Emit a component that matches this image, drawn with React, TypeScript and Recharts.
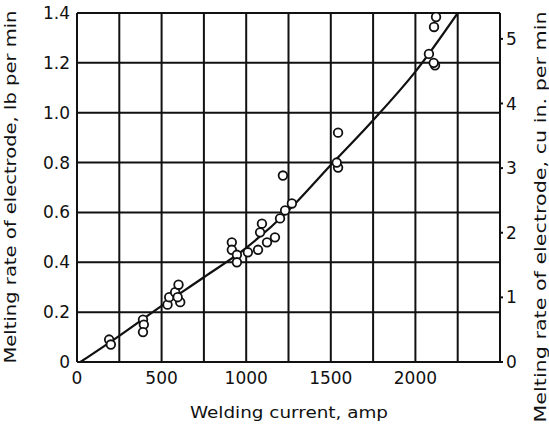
import { ComposedChart, Line, Scatter, XAxis, YAxis, CartesianGrid, Label } from 'recharts'

// fitted curve, welding current (amp) vs melting rate (lb per min)
const curveAmps = [20, 250, 500, 750, 1000, 1250, 1500, 1750, 2000, 2250]
const curveRates = [0, 0.105, 0.225, 0.34, 0.458, 0.608, 0.79, 0.97, 1.165, 1.4]

// measured points
const pointAmps = [
  190, 200,
  390, 395, 390,
  535, 545, 580, 600, 610, 595,
  915, 915, 945, 945, 1010, 1070, 1082, 1093, 1123, 1170, 1200, 1230, 1270, 1217,
  1543, 1543, 1535,
  2122, 2110, 2080, 2116, 2108,
]
const pointRates = [
  0.09, 0.07,
  0.17, 0.15, 0.12,
  0.23, 0.26, 0.28, 0.31, 0.24, 0.26,
  0.48, 0.45, 0.43, 0.4, 0.44, 0.45, 0.52, 0.555, 0.48, 0.5, 0.576, 0.608, 0.636, 0.748,
  0.92, 0.78, 0.8,
  1.384, 1.344, 1.236, 1.19, 1.2,
]

const xGridTicks = [0, 250, 500, 750, 1000, 1250, 1500, 1750, 2000, 2250, 2500]
const xLabelTicks = [0, 500, 1000, 1500, 2000]
const leftTicks = [0, 0.2, 0.4, 0.6, 0.8, 1.0, 1.2, 1.4]
const rightTicks = [0, 1, 2, 3, 4, 5]

const xTitle = 'Welding current, amp'
const leftTitle = 'Melting rate of electrode, lb per min'
const rightTitle = 'Melting rate of electrode, cu in. per min'

// lb of electrode per cu in (right scale)
const lbPerCuIn = 0.259

const curve = curveAmps.map((a, i) => ({ amp: a, rate: curveRates[i], cu: curveRates[i] / lbPerCuIn }))
const points = pointAmps.map((a, i) => ({ amp: a, rate: pointRates[i] }))

const ink = '#111'
const font = '"DejaVu Sans", sans-serif'

const OpenCircle = (props: any) => (
  <circle cx={props.cx} cy={props.cy} r={4.3} fill="#fff" stroke={ink} strokeWidth={1.8} />
)

export default function App() {
  return (
    <div style={{ position: 'absolute', left: 0, top: 0, background: '#fff' }}>
      <ComposedChart
        width={549}
        height={426}
        margin={{ top: 13, right: 0, bottom: 0, left: 0 }}
        style={{ fontFamily: font }}
      >
        <CartesianGrid stroke={ink} strokeWidth={2} />
        <XAxis
          dataKey="amp"
          type="number"
          domain={[0, 2500]}
          ticks={xGridTicks}
          tickFormatter={(v: number) => (xLabelTicks.includes(v) ? String(v) : '')}
          tickLine={false}
          tickSize={0}
          tickMargin={10}
          axisLine={{ stroke: ink, strokeWidth: 2 }}
          tick={{ fill: ink, fontSize: 17 }}
          height={64}
          allowDataOverflow
        >
          <Label
            content={() => (
              <text
                x={289}
                y={412}
                textAnchor="middle"
                dominantBaseline="central"
                fontSize={16}
                fill={ink}
                textLength={198}
                lengthAdjust="spacingAndGlyphs"
              >
                {xTitle}
              </text>
            )}
          />
        </XAxis>
        <YAxis
          type="number"
          domain={[0, 1.4]}
          ticks={leftTicks}
          tickFormatter={(v: number) => (v === 0 ? '0' : v.toFixed(1))}
          tickLine={false}
          tickSize={0}
          tickMargin={7}
          axisLine={{ stroke: ink, strokeWidth: 2 }}
          tick={{ fill: ink, fontSize: 17 }}
          width={77}
          allowDataOverflow
        >
          <Label
            content={() => (
              <text
                x={10}
                y={187}
                transform="rotate(-90, 10, 187)"
                textAnchor="middle"
                dominantBaseline="central"
                fontSize={16}
                fill={ink}
                textLength={353}
                lengthAdjust="spacingAndGlyphs"
              >
                {leftTitle}
              </text>
            )}
          />
        </YAxis>
        <YAxis
          yAxisId="right"
          orientation="right"
          type="number"
          domain={[0, 5.4]}
          ticks={rightTicks}
          tickSize={3}
          tickMargin={3}
          tickLine={{ stroke: ink, strokeWidth: 2 }}
          axisLine={{ stroke: ink, strokeWidth: 2 }}
          tick={{ fill: ink, fontSize: 17 }}
          width={49}
          allowDataOverflow
        >
          <Label
            content={() => (
              <text
                x={540}
                y={217}
                transform="rotate(-90, 540, 217)"
                textAnchor="middle"
                dominantBaseline="central"
                fontSize={16}
                fill={ink}
                textLength={411}
                lengthAdjust="spacingAndGlyphs"
              >
                {rightTitle}
              </text>
            )}
          />
        </YAxis>
        <Line
          yAxisId="right"
          data={curve}
          dataKey="cu"
          stroke="none"
          dot={false}
          activeDot={false}
          isAnimationActive={false}
        />
        <Line
          data={curve}
          dataKey="rate"
          type="monotone"
          stroke={ink}
          strokeWidth={2.2}
          dot={false}
          isAnimationActive={false}
        />
        <Scatter data={points} dataKey="rate" shape={OpenCircle} isAnimationActive={false} />
      </ComposedChart>
    </div>
  )
}
